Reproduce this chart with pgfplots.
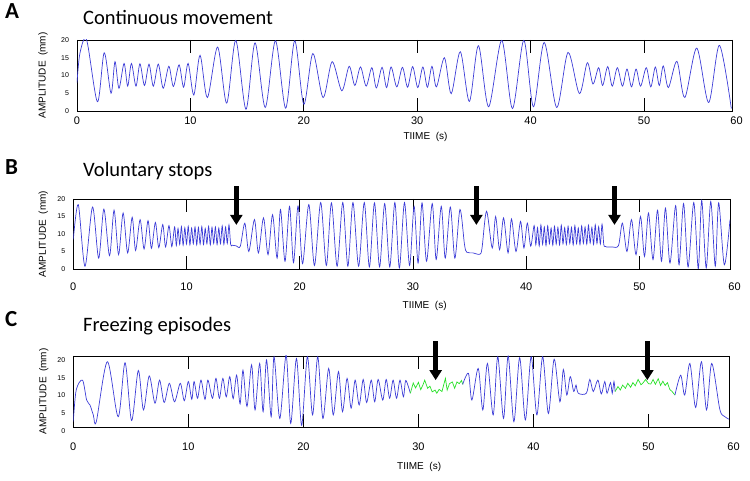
\documentclass[border=0pt]{standalone}
\usepackage{fontspec}
\setmainfont{Liberation Sans}
\newfontfamily\titlefont{Carlito}
\usepackage{pgfplots}
\pgfplotsset{compat=1.18}
\usetikzlibrary{arrows.meta}
\definecolor{sigblue}{RGB}{60,60,215}
\definecolor{siggreen}{RGB}{40,225,40}
\tikzset{arr/.style={line width=5.5pt, -{Triangle[width=12pt,length=10pt]}}}
\pgfplotsset{
 panel/.style={
   scale only axis, anchor=south west,
   xmin=0, ymin=0, ymax=20,
   axis line style={line width=0.9pt},
   tick align=inside,
   ytick={0,5,10,15,20},
   yticklabels={0,5,10,15,20},
   yticklabel style={font=\fontsize{7}{8}\selectfont, xshift=-4.5pt},
   xticklabel style={font=\fontsize{11}{12}\selectfont},
   major tick length=13pt,
   xtick style={line width=0.9pt, black},
   ytick style={draw=none},
   minor ytick={5,10,15},
   minor tick length=5pt,
   minor y tick style={line width=0.9pt, black},
   xlabel={TIIME~~(s)},
   ylabel={AMPLITUDE~~(mm)},
   xlabel style={font=\fontsize{9}{10}\selectfont},
   ylabel style={font=\fontsize{10.5}{12}\selectfont},
   clip mode=individual,
 },
 sig/.style={sigblue, line width=0.7pt, smooth, tension=0.5},
 frz/.style={siggreen, line width=0.7pt},
}
\begin{document}
\begin{tikzpicture}
\useasboundingbox (0pt,0pt) rectangle (750pt,481pt);
% titles
\node[anchor=base west, inner sep=0pt, font=\titlefont\bfseries\fontsize{23}{25}\selectfont] at (5pt,462.7pt) {A};
\node[anchor=base west, inner sep=0pt, font=\titlefont\fontsize{20.5}{22}\selectfont] at (83pt,456pt) {Continuous movement};
\node[anchor=base west, inner sep=0pt, font=\titlefont\bfseries\fontsize{23}{25}\selectfont] at (5pt,306pt) {B};
\node[anchor=base west, inner sep=0pt, font=\titlefont\fontsize{20.5}{22}\selectfont] at (83pt,304pt) {Voluntary stops};
\node[anchor=base west, inner sep=0pt, font=\titlefont\bfseries\fontsize{23}{25}\selectfont] at (5pt,154pt) {C};
\node[anchor=base west, inner sep=0pt, font=\titlefont\fontsize{20.5}{22}\selectfont] at (83pt,149pt) {Freezing episodes};

% ---------------- Panel A
\begin{axis}[panel, at={(77pt,370pt)}, width=655pt, height=71pt, xmax=57.76,
  xtick={0,10,20,30,40,50,57.76}, xticklabels={0,10,20,30,40,50,\hspace*{9pt}60},
  xticklabel style={yshift=-2pt},
  every axis x label/.style={at={(axis description cs:0.5,0)}, anchor=center, xshift=21pt, yshift=-25.7pt},
  every axis y label/.style={at={(axis description cs:0,0.5)}, xshift=-34pt, rotate=90, anchor=center}]
\addplot[sig] coordinates {
(0,8) (0.26,16.3) (0.85,20) (1.8,2.6) (2.4,16.4) (3.0,5.0) (3.35,13.9) (3.7,6.4) (4.15,13.4) (4.47,7.0) (4.8,13.4) (5.2,7.0) (5.55,13.3) (5.95,7.2) (6.35,13.2) (6.73,7.0) (7.17,13.2) (7.6,6.4) (8.1,12.6) (8.5,6.9) (9.0,13.0) (9.4,6.7) (9.8,13.4) (10.3,4.5) (10.85,15.7) (11.5,3.8) (12.4,18.0) (13.2,2.2) (14.0,19.9) (14.9,0.5) (15.7,19.2) (16.6,1.0) (17.5,19.8) (18.4,0.8) (19.2,19.8) (20.0,1.9) (20.8,16.2) (21.7,3.8) (22.5,13.9) (23.35,5.7) (24.0,12.6) (24.5,7.2) (25.0,12.4) (25.5,7.0) (26.0,12.2) (26.4,6.5) (26.9,12.3) (27.3,6.6) (27.7,12.4) (28.2,6.8) (28.7,12.3) (29.15,6.7) (29.6,12.5) (30.05,6.6) (30.5,12.4) (30.9,6.7) (31.3,12.6) (31.7,6.8) (32.4,15.0) (33.0,4.9) (33.8,16.7) (34.6,2.7) (35.4,18.4) (36.3,1.2) (37.45,19.9) (38.4,0.7) (39.4,19.9) (40.25,1.2) (41.2,19.3) (42.3,1.0) (43.3,16.5) (44.3,4.9) (45.0,13.6) (45.5,7.6) (46.0,12.2) (46.35,7.2) (46.8,12.5) (47.2,7.0) (47.65,12.2) (48.1,7.0) (48.5,11.8) (48.9,6.8) (49.3,11.8) (49.7,7.0) (50.2,12.2) (50.6,6.8) (51.0,12.4) (51.35,7.2) (51.7,12.7) (52.15,6.6) (52.9,14.0) (53.6,3.8) (54.65,17.7) (55.7,2.4) (56.65,18.5) (57.7,0.7)
};
\end{axis}

% ---------------- Panel B
\begin{axis}[panel, at={(73.3pt,212pt)}, width=656.7pt, height=70pt, xmax=58.0,
  xtick={0,10,20,30,40,50,58}, xticklabels={0,10,20,30,40,50,\hspace*{9pt}60},
  xticklabel style={yshift=-10.5pt},
  every axis x label/.style={at={(axis description cs:0.5,0)}, anchor=center, xshift=23pt, yshift=-36.7pt},
  every axis y label/.style={at={(axis description cs:0,0.5)}, xshift=-30pt, rotate=90, anchor=center}]
\addplot[sig] coordinates {
(0,8.4) (0.44,18.4) (1.03,0.8) (1.7,17.7) (2.24,3.1) (2.7,17.1) (3.2,3.8) (3.6,16.8) (4.0,4.1) (4.4,16.0) (4.8,4.6) (5.2,14.8) (5.5,5.3) (5.9,14.1) (6.25,5.7) (6.6,13.8) (6.9,5.9) (7.25,13.3) (7.55,6.1) (7.9,12.7) (8.15,6.3) (8.45,12.4) (8.7,6.4)
(8.95,12.0) (9.1,6.7) (9.25,11.6) (9.4,7.0) (9.55,12.1) (9.7,6.8) (9.85,11.8) (10.0,7.1) (10.15,12.2) (10.3,6.9) (10.45,11.7) (10.6,7.2) (10.75,12.0) (10.9,6.9) (11.05,11.9) (11.2,7.1) (11.35,12.1) (11.5,7.0) (11.65,11.6) (11.8,7.2) (11.95,12.2) (12.1,6.9) (12.25,11.9) (12.4,7.3) (12.55,12.0) (12.7,7.0) (12.85,11.7) (13.0,7.2) (13.15,12.3) (13.3,7.0) (13.45,12.0) (13.6,7.3) (13.75,12.6) (13.9,7.0) (14.05,6.8) (14.4,6.6) (14.75,6.5)
(15.15,13.1) (15.5,5.0) (16.0,14.1) (16.35,4.6) (16.8,14.6) (17.2,4.1) (17.6,15.5) (18.0,3.1) (18.3,17.0) (18.7,2.2) (19.1,17.9) (19.45,1.8) (19.85,18.0) (20.25,1.5) (20.8,18.4) (21.3,1.0) (21.85,19.0) (22.35,1.0) (22.8,18.9) (23.3,0.8) (23.8,19.0) (24.25,0.8) (24.7,19.0) (25.2,0.8) (25.7,19.0) (26.15,0.6) (26.6,18.9) (27.05,0.6) (27.5,18.7) (27.95,0.6) (28.4,19.0) (28.8,0.3) (29.25,19.0) (29.7,1.0) (30.1,17.9) (30.45,1.7) (30.8,18.9) (31.2,2.2) (31.7,18.7) (32.05,2.7) (32.5,17.9) (32.85,3.1) (33.3,17.7) (33.7,3.1) (34.15,17.0) (34.55,7.0) (34.75,4.8) (35.3,4.6) (35.9,4.2) (36.1,6.0)
(36.5,16.5) (37.0,6.0) (37.3,15.0) (37.65,5.5) (38.0,14.6) (38.4,4.6) (38.7,14.3) (39.1,5.0) (39.5,13.6) (39.8,6.0) (40.1,13.1) (40.4,6.5)
(40.7,12.4) (40.85,6.9) (41.0,11.8) (41.15,6.6) (41.3,12.6) (41.45,7.0) (41.6,12.0) (41.75,6.7) (41.9,12.3) (42.05,7.2) (42.2,11.7) (42.35,6.8) (42.5,12.2) (42.65,7.1) (42.8,11.9) (42.95,6.9) (43.1,12.5) (43.25,7.2) (43.4,11.8) (43.55,7.0) (43.7,12.2) (43.85,7.3) (44.0,11.9) (44.15,6.9) (44.3,12.4) (44.45,7.2) (44.6,11.7) (44.75,7.0) (44.9,12.3) (45.05,7.3) (45.2,12.0) (45.35,7.1) (45.5,12.5) (45.65,7.4) (45.8,11.9) (45.95,7.0) (46.1,12.6) (46.25,7.3) (46.4,12.1) (46.55,7.1) (46.7,12.8) (46.85,7.0) (46.95,6.5) (47.1,6.3) (47.6,6.3) (48.15,6.7)
(48.5,13.1) (48.9,5.0) (49.3,14.1) (49.7,4.1) (50.1,15.0) (50.45,3.6) (50.8,16.0) (51.2,2.7) (51.6,16.8) (51.95,2.2) (52.3,17.4) (52.7,1.7) (53.2,18.1) (53.5,1.2) (53.9,18.7) (54.3,0.6) (54.8,19.0) (55.2,0.1) (55.5,19.6) (55.9,0.3) (56.3,19.3) (56.7,0.8) (57.0,18.9) (57.5,1.2) (58.0,14.1)
};
\draw[arr] (axis cs:14.4,23.7) -- (axis cs:14.4,12.6);
\draw[arr] (axis cs:35.6,23.7) -- (axis cs:35.6,12.6);
\draw[arr] (axis cs:47.8,23.7) -- (axis cs:47.8,12.6);
\end{axis}

% ---------------- Panel C
\begin{axis}[panel, at={(73.3pt,54pt)}, width=655.7pt, height=71pt, xmax=57.0,
  xtick={0,10,20,30,40,50,57}, xticklabels={0,10,20,30,40,50,\hspace*{9pt}60},
  xticklabel style={yshift=-12.5pt},
  yticklabel style={yshift=-4pt},
  every axis x label/.style={at={(axis description cs:0.5,0)}, anchor=center, xshift=18pt, yshift=-40pt},
  every axis y label/.style={at={(axis description cs:0,0.5)}, xshift=-29.5pt, rotate=90, anchor=center}]
\addplot[sig] coordinates {
(0,1.5) (0.25,10.4) (0.8,13.2) (1.16,7.6) (1.45,6.2) (1.74,3.4) (2.0,1.5) (2.96,18.4) (3.9,2.9) (4.5,18.1) (5.07,1.8) (5.65,15.9) (6.1,4.8) (6.6,14.4) (7.1,6.7) (7.5,13.2) (7.9,6.9) (8.35,12.3) (8.8,7.1) (9.3,12.3) (9.65,7.4) (10.0,12.8) (10.3,7.8) (10.5,12.8) (10.8,8.1) (11.1,13.2) (11.45,7.8) (11.7,13.2) (12.1,8.1) (12.4,13.7) (12.7,8.1) (13.0,13.7) (13.3,8.5) (13.6,14.2) (13.9,8.0) (14.2,14.6) (14.5,6.5) (14.75,16.0) (15.1,5.8) (15.5,17.5) (15.8,4.8) (16.2,17.9) (16.5,4.3) (16.8,18.9) (17.2,2.9) (17.45,19.8) (17.95,2.4) (18.5,20.2) (18.9,1.0) (19.4,19.3) (19.85,0.5) (20.35,19.8) (20.8,3.4) (21.25,19.8) (21.7,2.4) (22.2,16.5) (22.6,3.4) (23.05,15.6) (23.4,4.3) (23.8,13.7) (24.15,5.3) (24.5,13.2) (24.85,6.2) (25.2,13.4) (25.5,6.9) (25.9,13.2) (26.2,7.1) (26.5,13.4) (26.9,7.6) (27.2,13.4) (27.5,8.1) (27.8,13.2) (28.1,8.1) (28.4,13.2) (28.7,8.5) (28.9,13.1) (29.3,9.5)
};
\addplot[frz] coordinates {
(29.3,9.5) (29.55,12.4) (29.75,11.0) (30.0,12.6) (30.2,10.5) (30.4,11.9) (30.55,13.2) (30.8,10.9) (31.0,11.5) (31.2,9.9) (31.45,10.4) (31.6,9.5) (31.8,10.6) (32.05,10.0) (32.2,11.9) (32.35,13.7) (32.5,10.4) (32.7,12.2) (32.95,12.7) (33.15,10.9) (33.35,12.7) (33.55,12.2) (33.75,13.1) (33.85,12.0)
};
\addplot[sig] coordinates {
(33.85,12.0) (34.35,15.1) (34.65,7.6) (35.2,16.5) (35.6,4.8) (36.0,17.9) (36.5,3.4) (36.9,19.8) (37.4,2.4) (37.8,20.0) (38.3,1.5) (38.8,19.5) (39.3,2.0) (39.8,19.8) (40.3,3.4) (40.8,19.8) (41.3,3.8) (41.8,19.1) (42.3,7.1) (42.6,16.2) (42.9,9.0) (43.2,14.2) (43.5,10.0) (43.7,11.8) (43.9,9.5) (44.6,9.5) (44.9,13.4) (45.2,10.0) (45.6,13.2) (45.9,9.3) (46.2,12.8) (46.4,9.5) (46.7,12.5) (46.85,9.5) (47.0,12.8) (47.1,10.0)
};
\addplot[frz] coordinates {
(47.1,10.0) (47.35,11.4) (47.55,10.4) (47.75,11.8) (48.0,10.9) (48.2,12.3) (48.45,11.2) (48.65,12.5) (48.85,11.6) (49.1,13.4) (49.35,11.9) (49.55,12.5) (49.75,13.4) (50.0,12.2) (50.2,12.1) (50.4,13.4) (50.6,12.0) (50.85,13.6) (51.05,11.7) (51.25,12.9) (51.45,11.7) (51.65,12.5) (51.85,10.6) (52.05,10.0) (52.3,9.0)
};
\addplot[sig] coordinates {
(52.3,9.0) (52.8,14.6) (53.15,9.0) (53.6,17.9) (54.1,5.5) (54.6,18.4) (55.05,4.8) (55.5,17.9) (56.2,5.0) (56.6,3.0) (57.0,2.2)
};
\draw[arr] (axis cs:31.5,24.2) -- (axis cs:31.5,13.2);
\draw[arr] (axis cs:49.9,24.2) -- (axis cs:49.9,13.2);
\end{axis}
\end{tikzpicture}
\end{document}
